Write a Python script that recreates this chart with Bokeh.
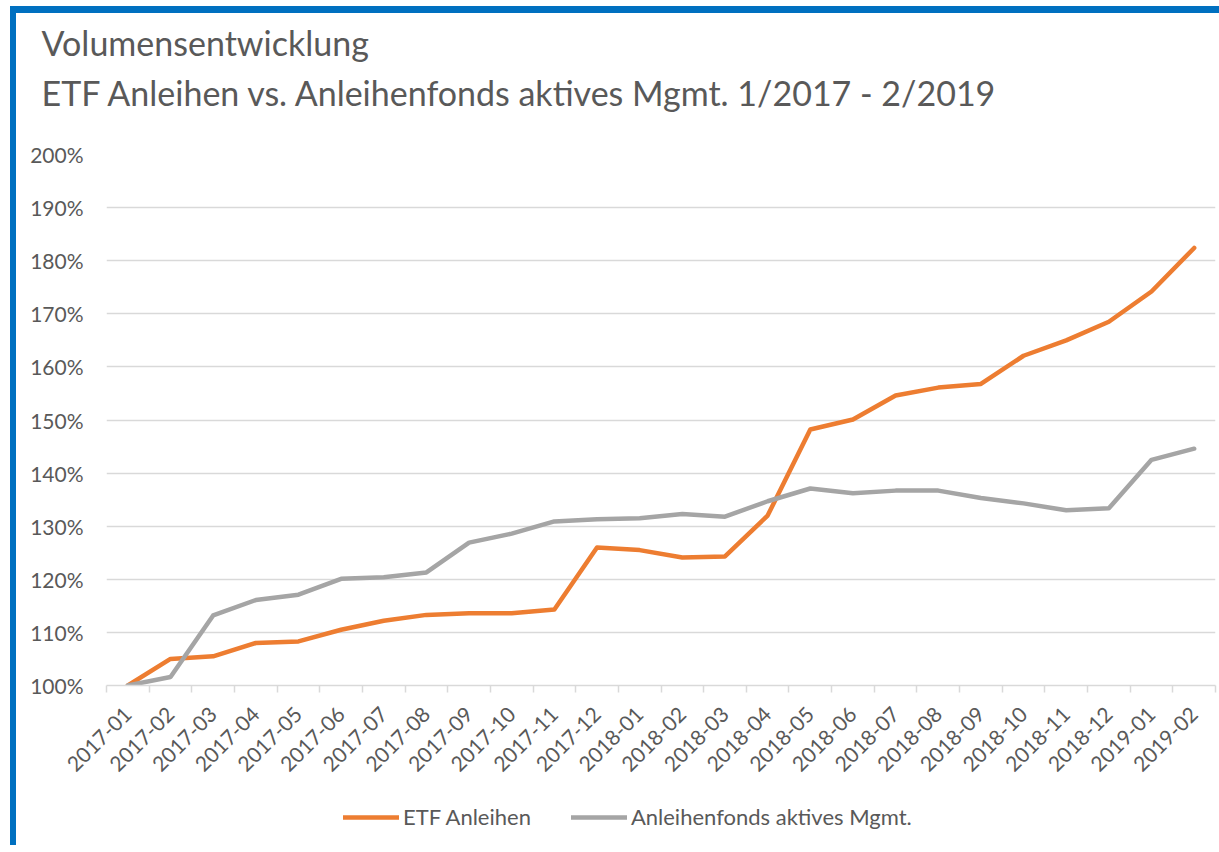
import math
from bokeh.plotting import figure
from bokeh.layouts import column
from bokeh.models import (Range1d, FixedTicker, PrintfTickFormatter, Legend, LegendItem, Label)
from bokeh.embed import file_html
from bokeh.resources import INLINE

months = ["2017-01", "2017-02", "2017-03", "2017-04", "2017-05", "2017-06", "2017-07",
          "2017-08", "2017-09", "2017-10", "2017-11", "2017-12", "2018-01", "2018-02",
          "2018-03", "2018-04", "2018-05", "2018-06", "2018-07", "2018-08", "2018-09",
          "2018-10", "2018-11", "2018-12", "2019-01", "2019-02"]
etf_anleihen = [100.0, 105.0, 105.5, 108.0, 108.3, 110.5, 112.2, 113.3, 113.6, 113.6, 114.3,
                126.0, 125.5, 124.1, 124.3, 132.0, 148.2, 150.1, 154.6, 156.1, 156.8, 162.1,
                165.0, 168.5, 174.2, 182.4]
anleihenfonds_aktiv = [100.0, 101.6, 113.2, 116.1, 117.1, 120.1, 120.4, 121.3, 126.9, 128.6,
                       130.9, 131.3, 131.5, 132.3, 131.8, 134.7, 137.1, 136.2, 136.7, 136.7,
                       135.3, 134.3, 133.0, 133.4, 142.5, 144.6]
y_ticks = [100, 110, 120, 130, 140, 150, 160, 170, 180, 190, 200]
title_line1 = "Volumensentwicklung"
title_line2 = "ETF Anleihen vs. Anleihenfonds aktives Mgmt. 1/2017 - 2/2019"
series_names = ["ETF Anleihen", "Anleihenfonds aktives Mgmt."]
series_colors = ["#ED7D31", "#A5A5A5"]

TXT = "#595959"
FONT = "Lato"
GRID = "#D9D9D9"
BLUE = "#0070C0"
CANVAS_W = 1203

xs = list(range(len(months)))

# ---- title strip ----
pt = figure(frame_width=CANVAS_W, frame_height=126, output_backend="svg", toolbar_location=None,
            x_range=Range1d(0, CANVAS_W), y_range=Range1d(0, 126),
            x_axis_type=None, y_axis_type=None, frame_align=False,
            min_border_left=0, min_border_right=0, min_border_top=0, min_border_bottom=0,
            styles={"border-left": "6px solid " + BLUE, "border-top": "7px solid " + BLUE})
pt.outline_line_color = None
pt.xgrid.visible = False
pt.ygrid.visible = False
pt.border_fill_color = "white"
for txt, yy in [(title_line1, 99), (title_line2, 51)]:
    pt.add_layout(Label(x=25, y=yy, text=txt, text_font=FONT, text_font_size="34px",
                        text_color=TXT, text_baseline="alphabetic", text_align="left"))

# ---- main chart ----
p = figure(frame_width=1103, frame_height=531, output_backend="svg", toolbar_location=None,
           x_range=Range1d(-0.5, len(months) - 0.5), y_range=Range1d(100, 200),
           frame_align=False,
           min_border_left=90, min_border_right=10, min_border_top=15, min_border_bottom=100,
           styles={"border-left": "6px solid " + BLUE})
p.outline_line_color = None
p.background_fill_color = "white"
p.border_fill_color = "white"

xa = p.xaxis[0]
xa.ticker = FixedTicker(ticks=xs, minor_ticks=[i - 0.5 for i in range(len(months) + 1)])
xa.major_label_overrides = {i: m for i, m in enumerate(months)}
xa.major_label_orientation = math.pi / 4
xa.major_tick_line_color = None
xa.major_tick_out = 0
xa.major_tick_in = 0
xa.minor_tick_line_color = GRID
xa.minor_tick_line_width = 1.5
xa.minor_tick_out = 7
xa.minor_tick_in = 0
xa.axis_line_color = GRID
xa.axis_line_width = 1.5
xa.major_label_text_font = FONT
xa.major_label_text_font_size = "21px"
xa.major_label_text_color = TXT
xa.major_label_standoff = 18

ya = p.yaxis[0]
ya.ticker = FixedTicker(ticks=y_ticks)
ya.formatter = PrintfTickFormatter(format="%d%%")
ya.axis_line_color = None
ya.major_tick_line_color = None
ya.minor_tick_line_color = None
ya.major_label_text_font = FONT
ya.major_label_text_font_size = "21px"
ya.major_label_text_color = TXT
ya.major_label_standoff = 17

p.xgrid.grid_line_color = None
p.ygrid.ticker = FixedTicker(ticks=y_ticks)
p.ygrid.grid_line_color = GRID
p.ygrid.grid_line_width = 1.5

series = [etf_anleihen, anleihenfonds_aktiv]
for vals, c in zip(series, series_colors):
    p.line(xs, vals, line_color=c, line_width=4.5, line_join="round", line_cap="round")

# ---- legend strip (series drawn out of its view, used only for legend samples) ----
pl = figure(frame_width=CANVAS_W, frame_height=60, output_backend="svg", toolbar_location=None,
            x_range=Range1d(0, 1), y_range=Range1d(0, 1),
            x_axis_type=None, y_axis_type=None, frame_align=False,
            min_border_left=0, min_border_right=0, min_border_top=0, min_border_bottom=0,
            styles={"border-left": "6px solid " + BLUE})
pl.outline_line_color = None
pl.xgrid.visible = False
pl.ygrid.visible = False
pl.border_fill_color = "white"
sample_renderers = [pl.line(xs, vals, line_color=c, line_width=4.5, line_cap="round")
                    for vals, c in zip(series, series_colors)]

legend = Legend(items=[LegendItem(label=n, renderers=[r])
                       for n, r in zip(series_names, sample_renderers)],
                orientation="horizontal", location=(327, 15),
                glyph_width=56, glyph_height=24, label_height=24, label_standoff=4,
                spacing=40, padding=0, margin=0, border_line_color=None,
                background_fill_alpha=0, label_text_font=FONT,
                label_text_font_size="22px", label_text_color=TXT)
pl.add_layout(legend, "center")

layout = column(pt, p, pl, spacing=0, styles={"margin-left": "10px", "margin-top": "6px"})

open("out.html", "w").write(file_html(layout, INLINE))
